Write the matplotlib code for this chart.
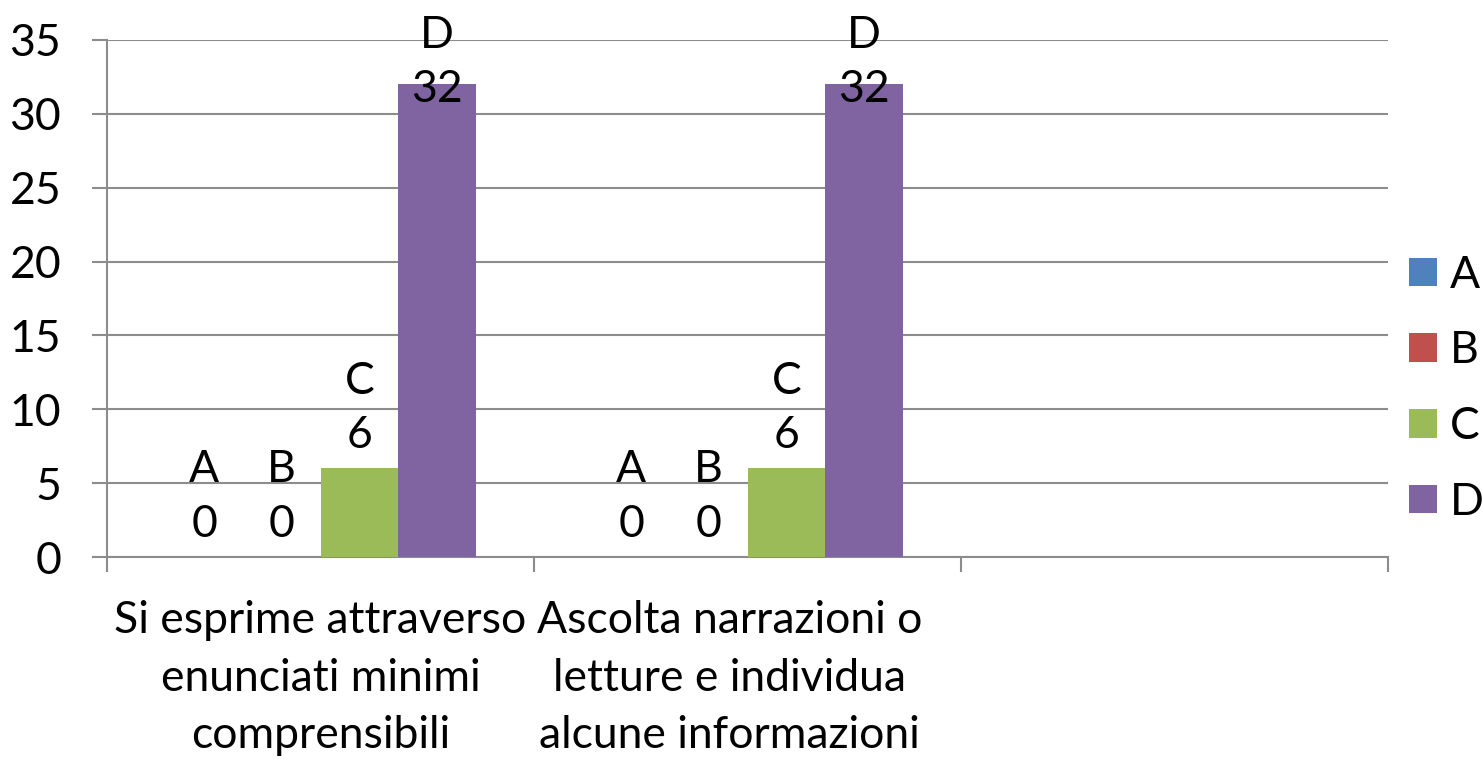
import matplotlib
matplotlib.use("Agg")
import matplotlib.pyplot as plt
import matplotlib.transforms as mtransforms
from matplotlib.patches import Patch
import numpy as np

# chart data
categories = ["Si esprime attraverso\nenunciati minimi\ncomprensibili",
              "Ascolta narrazioni o\nletture e individua\nalcune informazioni",
              ""]
series_names = ["A", "B", "C", "D"]
values_a = [0, 0, None]
values_b = [0, 0, None]
values_c = [6, 6, None]
values_d = [32, 32, None]
series_colors = ["#4F81BD", "#C0504D", "#9BBB59", "#8064A2"]
y_ticks = [0, 5, 10, 15, 20, 25, 30, 35]

plt.rcParams['font.family'] = ['Lato', 'DejaVu Sans']
FS = 32
GRID = "#8C8C8C"

fig = plt.figure(figsize=(14.82, 7.59), dpi=100)
ax = fig.add_axes([0.0722, 0.2661, 0.8644, 0.6812])
ax.set_xlim(-0.5, len(categories) - 0.5)
ax.set_ylim(0, 35)

x = np.arange(len(categories))
w = 0.1815
all_values = [values_a, values_b, values_c, values_d]

for i, (name, vals, col) in enumerate(zip(series_names, all_values, series_colors)):
    xs = [xx + (i - 1.5) * w for xx, v in zip(x, vals) if v is not None]
    hs = [v for v in vals if v is not None]
    ax.bar(xs, hs, width=w, color=col, zorder=3, label=name)
    for xx, h in zip(xs, hs):
        # label sits above bar; pushed down if it leaves the chart
        top_px = ax.transData.transform((xx, h))[1] + 12 + 115
        if top_px > fig.bbox.height - 5:
            ax.annotate(f"{name}\n{h}", xy=(xx, 0.98), xycoords=('data', 'figure fraction'),
                        ha='center', va='top', fontsize=FS, linespacing=1.4, zorder=4)
        else:
            ax.annotate(f"{name}\n{h}", xy=(xx, h), xytext=(0, 9), textcoords='offset points',
                        ha='center', va='bottom', fontsize=FS, linespacing=1.4, zorder=4)

ax.set_yticks(y_ticks)
ax.grid(axis='y', color=GRID, linewidth=1.5, zorder=0)

for s in ['top', 'right']:
    ax.spines[s].set_visible(False)
for s in ['left', 'bottom']:
    ax.spines[s].set_color(GRID)
    ax.spines[s].set_linewidth(1.5)

ax.tick_params(axis='y', length=11, width=1.5, color=GRID, labelsize=FS, pad=22)
ax.set_xticks(np.arange(len(categories) + 1) - 0.5)
ax.set_xticklabels([])
ax.tick_params(axis='x', which='major', length=11, width=1.5, color=GRID)
ax.set_xticks(x, minor=True)
ax.set_xticklabels(categories, minor=True, fontsize=FS, linespacing=1.5)
ax.tick_params(axis='x', which='minor', length=0, pad=31)

# second category label sits a little left, like the original
lbl = ax.get_xticklabels(minor=True)[1]
lbl.set_transform(lbl.get_transform() + mtransforms.ScaledTranslation(-0.18, 0, fig.dpi_scale_trans))

handles = [Patch(facecolor=c, label=n) for n, c in zip(series_names, series_colors)]
fig.legend(handles=handles, loc='center left', bbox_to_anchor=(0.951, 0.488),
           frameon=False, fontsize=FS, handlelength=0.62, handleheight=0.62,
           handletextpad=0.28, labelspacing=0.78, borderaxespad=0, borderpad=0)

fig.savefig("out.png", dpi=100)
